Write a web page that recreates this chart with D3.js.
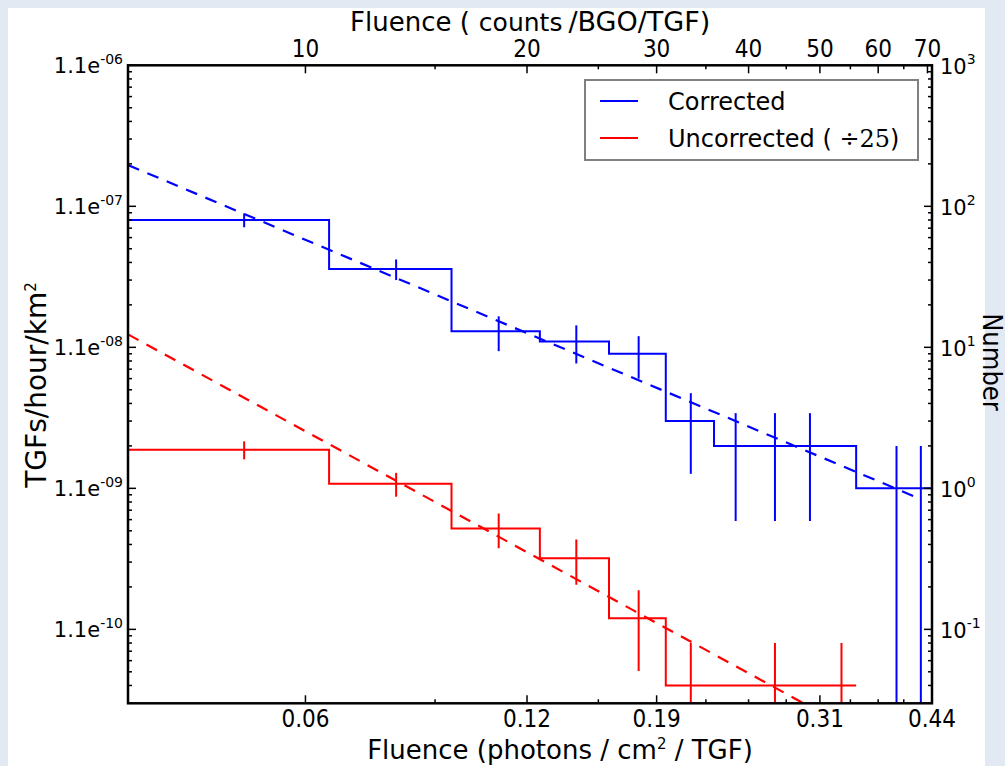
<!DOCTYPE html>
<html>
<head>
<meta charset="utf-8">
<script src="https://cdn.jsdelivr.net/npm/d3@7"></script>
<style>
  body { margin: 0; background: #e3e9f3; }
  svg { display: block; }
  .narrow { font-family: "Liberation Sans Narrow", "DejaVu Sans Condensed", "DejaVu Sans", sans-serif; font-stretch: condensed; }
  .sans { font-family: "DejaVu Sans", sans-serif; }
</style>
</head>
<body>
<svg width="1005" height="766"></svg>
<script>
// histogram bins (counts/BGO/TGF) and the number of TGFs in each bin
const binEdges = [5.74, 10.77, 15.79, 20.82, 25.85, 30.87, 35.90, 40.93, 45.95, 50.98, 56.00, 61.03, 66.05, 71.08];
const correctedCounts = [80, 36, 13, 11, 9, 3, 2, 2, 2, 0, 0, 1, 1];
const uncorrectedCounts = [47, 27, 13, 8, 3, 1, 0, 1, 0, 1, 0, 0, 0];
const divisors = [1, 25];
const seriesNames = ["Corrected", "Uncorrected ("];
const seriesColors = ["#0000ff", "#ff0000"];

// power law fits, N = amp * (x / 10)^-index
const fitAmplitudes = [57.9, 2.54];
const fitIndices = [2.2, 2.85];

// axis ticks
const topTicks = [10, 20, 30, 40, 50, 60, 70];
const topMinorTicks = [15, 25, 35, 45, 55, 65];
const bottomTicks = [10, 20, 30, 50, 71];
const bottomTickLabels = ["0.06", "0.12", "0.19", "0.31", "0.44"];
const bottomMinorTicks = [15, 25, 35, 40, 45, 55, 60, 65];
const rightTickExponents = [-1, 0, 1, 2, 3];
const leftTickExponents = ["-10", "-09", "-08", "-07", "-06"];

var svg = d3.select("svg"),
    pLeft = 128, pRight = 932, pTop = 65.3, pBottom = 703.3;

svg.append("rect").attr("width", 1005).attr("height", 766).attr("fill", "#e3e9f3");
svg.append("rect").attr("x", 8).attr("y", 8).attr("width", 977).attr("height", 758).attr("fill", "#ffffff");

var x = d3.scaleLog().domain([5.74, 71.0]).range([pLeft, pRight]);
var y = d3.scaleLog().domain([0.0299, 1000]).range([pBottom, pTop]);

svg.append("clipPath").attr("id", "plot")
    .append("rect").attr("x", pLeft).attr("y", pTop)
    .attr("width", pRight - pLeft).attr("height", pBottom - pTop);

var g = svg.append("g").attr("clip-path", "url(#plot)");

var centers = binEdges.slice(0, -1).map(function (e, i) { return (e + binEdges[i + 1]) / 2; });

// step line through the non-empty bins only
function stepPoints(counts, div) {
    var idx = [];
    counts.forEach(function (c, i) { if (c > 0) idx.push(i); });
    var pts = idx.map(function (i, k) {
        var start = k === 0 ? binEdges[i] : (centers[idx[k - 1]] + centers[i]) / 2;
        return [start, counts[i] / div];
    });
    var last = idx[idx.length - 1];
    pts.push([binEdges[last + 1], counts[last] / div]);
    return pts;
}

var line = d3.line()
    .x(function (d) { return x(d[0]); })
    .y(function (d) { return y(d[1]); });
var stepLine = d3.line()
    .x(function (d) { return x(d[0]); })
    .y(function (d) { return y(d[1]); })
    .curve(d3.curveStepAfter);

[correctedCounts, uncorrectedCounts].forEach(function (counts, s) {
    var div = divisors[s];

    //fitted power law, dashed
    var fitX = [binEdges[0], centers[centers.length - 1]];
    g.append("path")
        .attr("d", line(fitX.map(function (v) {
            return [v, fitAmplitudes[s] * Math.pow(v / 10, -fitIndices[s])];
        })))
        .attr("fill", "none")
        .attr("stroke", seriesColors[s])
        .attr("stroke-width", 2.2)
        .attr("stroke-dasharray", "12,9");

    g.append("path")
        .attr("d", stepLine(stepPoints(counts, div)))
        .attr("fill", "none")
        .attr("stroke", seriesColors[s])
        .attr("stroke-width", 2);

    //poisson error bars
    counts.forEach(function (c, i) {
        if (c <= 0) return;
        var lo = (c - Math.sqrt(c)) / div;
        if (lo <= 0) lo = y.domain()[0] / 10;
        g.append("line")
            .attr("x1", x(centers[i])).attr("x2", x(centers[i]))
            .attr("y1", y(lo)).attr("y2", y((c + Math.sqrt(c)) / div))
            .attr("stroke", seriesColors[s])
            .attr("stroke-width", 2);
    });
});

// ticks, pointing into the plot
function ticks(vals, len, horizontal, pos, dir) {
    vals.forEach(function (v) {
        if (horizontal) {
            svg.append("line").attr("x1", x(v)).attr("x2", x(v))
                .attr("y1", pos).attr("y2", pos + dir * len)
                .attr("stroke", "#000").attr("stroke-width", 1.5);
        } else {
            svg.append("line").attr("y1", y(v)).attr("y2", y(v))
                .attr("x1", pos).attr("x2", pos + dir * len)
                .attr("stroke", "#000").attr("stroke-width", 1.5);
        }
    });
}
ticks(topTicks, 8, true, pTop, 1);
ticks(topMinorTicks, 4, true, pTop, 1);
ticks(bottomTicks.filter(function (v) { return v < x.domain()[1]; }), 8, true, pBottom, -1);
ticks(bottomMinorTicks, 4, true, pBottom, -1);

var yMajor = rightTickExponents.map(function (e) { return Math.pow(10, e); });
var yMinor = y.ticks().filter(function (v) {
    return Math.abs(Math.log10(v) - Math.round(Math.log10(v))) > 1e-6;
});
ticks(yMajor, 8, false, pLeft, 1);
ticks(yMinor, 4, false, pLeft, 1);
ticks(yMajor, 8, false, pRight, -1);
ticks(yMinor, 4, false, pRight, -1);

svg.append("rect")
    .attr("x", pLeft).attr("y", pTop)
    .attr("width", pRight - pLeft).attr("height", pBottom - pTop)
    .attr("fill", "none").attr("stroke", "#000").attr("stroke-width", 2.5);

// tick labels
svg.selectAll(".toplab").data(topTicks).enter().append("text")
    .attr("class", "narrow").attr("x", function (d) { return x(d); }).attr("y", 57)
    .attr("text-anchor", "middle").style("font-size", "24px")
    .text(function (d) { return d; });

svg.selectAll(".botlab").data(bottomTicks).enter().append("text")
    .attr("class", "narrow").attr("x", function (d) { return x(Math.min(d, x.domain()[1])); }).attr("y", 727)
    .attr("text-anchor", "middle").style("font-size", "24px")
    .text(function (d, i) { return bottomTickLabels[i]; });

yMajor.forEach(function (v, i) {
    var t = svg.append("text").attr("class", "sans")
        .attr("x", pLeft - 5).attr("y", y(v) + 8)
        .attr("text-anchor", "end").style("font-size", "21px");
    t.append("tspan").text("1.1e");
    t.append("tspan").attr("dy", -9).style("font-size", "14px").text(leftTickExponents[i]);

    var r = svg.append("text").attr("class", "sans")
        .attr("x", pRight + 8).attr("y", y(v) + 9)
        .style("font-size", "21px");
    r.append("tspan").text("10");
    r.append("tspan").attr("dy", -10).style("font-size", "14px").text(rightTickExponents[i]);
});

// axis titles
var tt = svg.append("text").attr("class", "sans")
    .attr("x", 350).attr("y", 31).style("font-size", "26px");
tt.append("tspan").text("Fluence (");
tt.append("tspan").attr("dx", 9).style("font-size", "25px").text("counts");
tt.append("tspan").attr("dx", 6).style("font-size", "27px").text("/BGO/TGF)");

var bt = svg.append("text").attr("class", "sans")
    .attr("x", 560).attr("y", 759).attr("text-anchor", "middle").style("font-size", "26px");
bt.append("tspan").text("Fluence (photons / cm");
bt.append("tspan").attr("dy", -10).style("font-size", "15px").text("2");
bt.append("tspan").attr("dy", 10).text(" / TGF)");

var lt = svg.append("text").attr("class", "sans")
    .attr("transform", "translate(46,385) rotate(-90)")
    .attr("text-anchor", "middle").style("font-size", "28px");
lt.append("tspan").text("TGFs/hour/km");
lt.append("tspan").attr("dy", -10).style("font-size", "15px").text("2");

svg.append("text").attr("class", "narrow")
    .attr("transform", "translate(983,362) rotate(90)")
    .attr("text-anchor", "middle").style("font-size", "27px")
    .text("Number");

// legend
var lg = svg.append("g");
lg.append("rect").attr("x", 585).attr("y", 80).attr("width", 333).attr("height", 80)
    .attr("fill", "#fff").attr("stroke", "#808080").attr("stroke-width", 2);
seriesNames.forEach(function (name, i) {
    var ly = 101 + i * 37;
    lg.append("line").attr("x1", 600).attr("x2", 638).attr("y1", ly).attr("y2", ly)
        .attr("stroke", seriesColors[i]).attr("stroke-width", 2);
    var t = lg.append("text").attr("class", "sans").attr("x", 668).attr("y", ly + 9)
        .style("font-size", "24px");
    t.append("tspan").text(name);
    if (i === 1) {
        t.append("tspan").style("font-family", "'DejaVu Serif', serif").text(" \u00f7" + divisors[1]);
        t.append("tspan").text(")");
    }
});
</script>
</body>
</html>
